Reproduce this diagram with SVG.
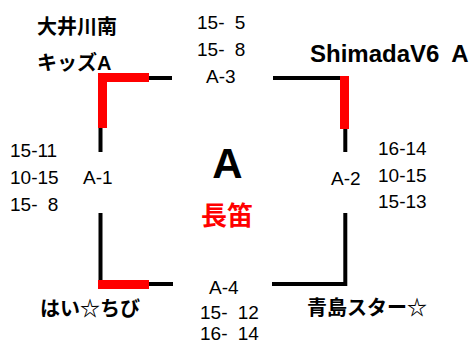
<svg xmlns="http://www.w3.org/2000/svg" width="470" height="345" viewBox="0 0 470 345">
<style>
.t{font-family:"Liberation Sans","Noto Sans CJK JP",sans-serif;font-size:19px;fill:#000}
.s{word-spacing:5px}
.team{font-family:"Liberation Sans","Noto Sans CJK JP",sans-serif;font-size:20px;font-weight:bold;fill:#000}
.ln{fill:none;stroke:#000;stroke-width:4;stroke-linecap:butt;stroke-linejoin:miter}
.win{fill:#ff0000}
</style>
<rect width="470" height="345" fill="#fff"/>
<g id="connectors">
<polyline class="ln" points="100.5,152 100.5,78 172,78"/>
<polyline class="ln" points="273,78 345.3,78 345.3,152"/>
<polyline class="ln" points="100.5,213 100.5,284 173,284"/>
<polyline class="ln" points="272,284 345.3,284 345.3,213"/>
<rect class="win" x="98" y="73" width="51" height="9"/>
<rect class="win" x="98" y="73" width="9" height="55"/>
<rect class="win" x="340" y="76" width="9" height="53"/>
<rect class="win" x="98" y="280" width="51" height="9"/>
</g>
<g id="team-oigawaminami">
<text class="team" x="37" y="34">大井川南</text>
<text class="team" x="37" y="70">キッズA</text>
</g>
<g id="team-shimada">
<text class="team" x="310" y="62" style="font-size:24px;word-spacing:6px">ShimadaV6 A</text>
</g>
<g id="team-haichibi">
<text class="team" x="40" y="316">はい☆ちび</text>
</g>
<g id="team-aoshima">
<text class="team" x="307" y="315">青島スター☆</text>
</g>
<g id="match-A3">
<text class="t s" x="197" y="29">15- 5</text>
<text class="t s" x="197" y="56">15- 8</text>
<text class="t" x="206" y="83">A-3</text>
</g>
<g id="match-A1">
<text class="t" x="10" y="157">15-11</text>
<text class="t" x="10" y="184">10-15</text>
<text class="t s" x="10" y="211">15- 8</text>
<text class="t" x="83" y="184">A-1</text>
</g>
<g id="match-A2">
<text class="t" x="378" y="155">16-14</text>
<text class="t" x="378" y="182">10-15</text>
<text class="t" x="378" y="208">15-13</text>
<text class="t" x="331" y="185">A-2</text>
</g>
<g id="match-A4">
<text class="t" x="209" y="294">A-4</text>
<text class="t s" x="200" y="319">15- 12</text>
<text class="t s" x="200" y="340">16- 14</text>
</g>
<g id="title">
<text x="227.5" y="178" text-anchor="middle" style="font-family:'Liberation Sans',sans-serif;font-size:42px;font-weight:bold;fill:#000">A</text>
<text x="227" y="225" text-anchor="middle" style="font-family:'Liberation Sans','Noto Sans CJK JP',sans-serif;font-size:26px;font-weight:bold;fill:#ff0000">長笛</text>
</g>
</svg>
